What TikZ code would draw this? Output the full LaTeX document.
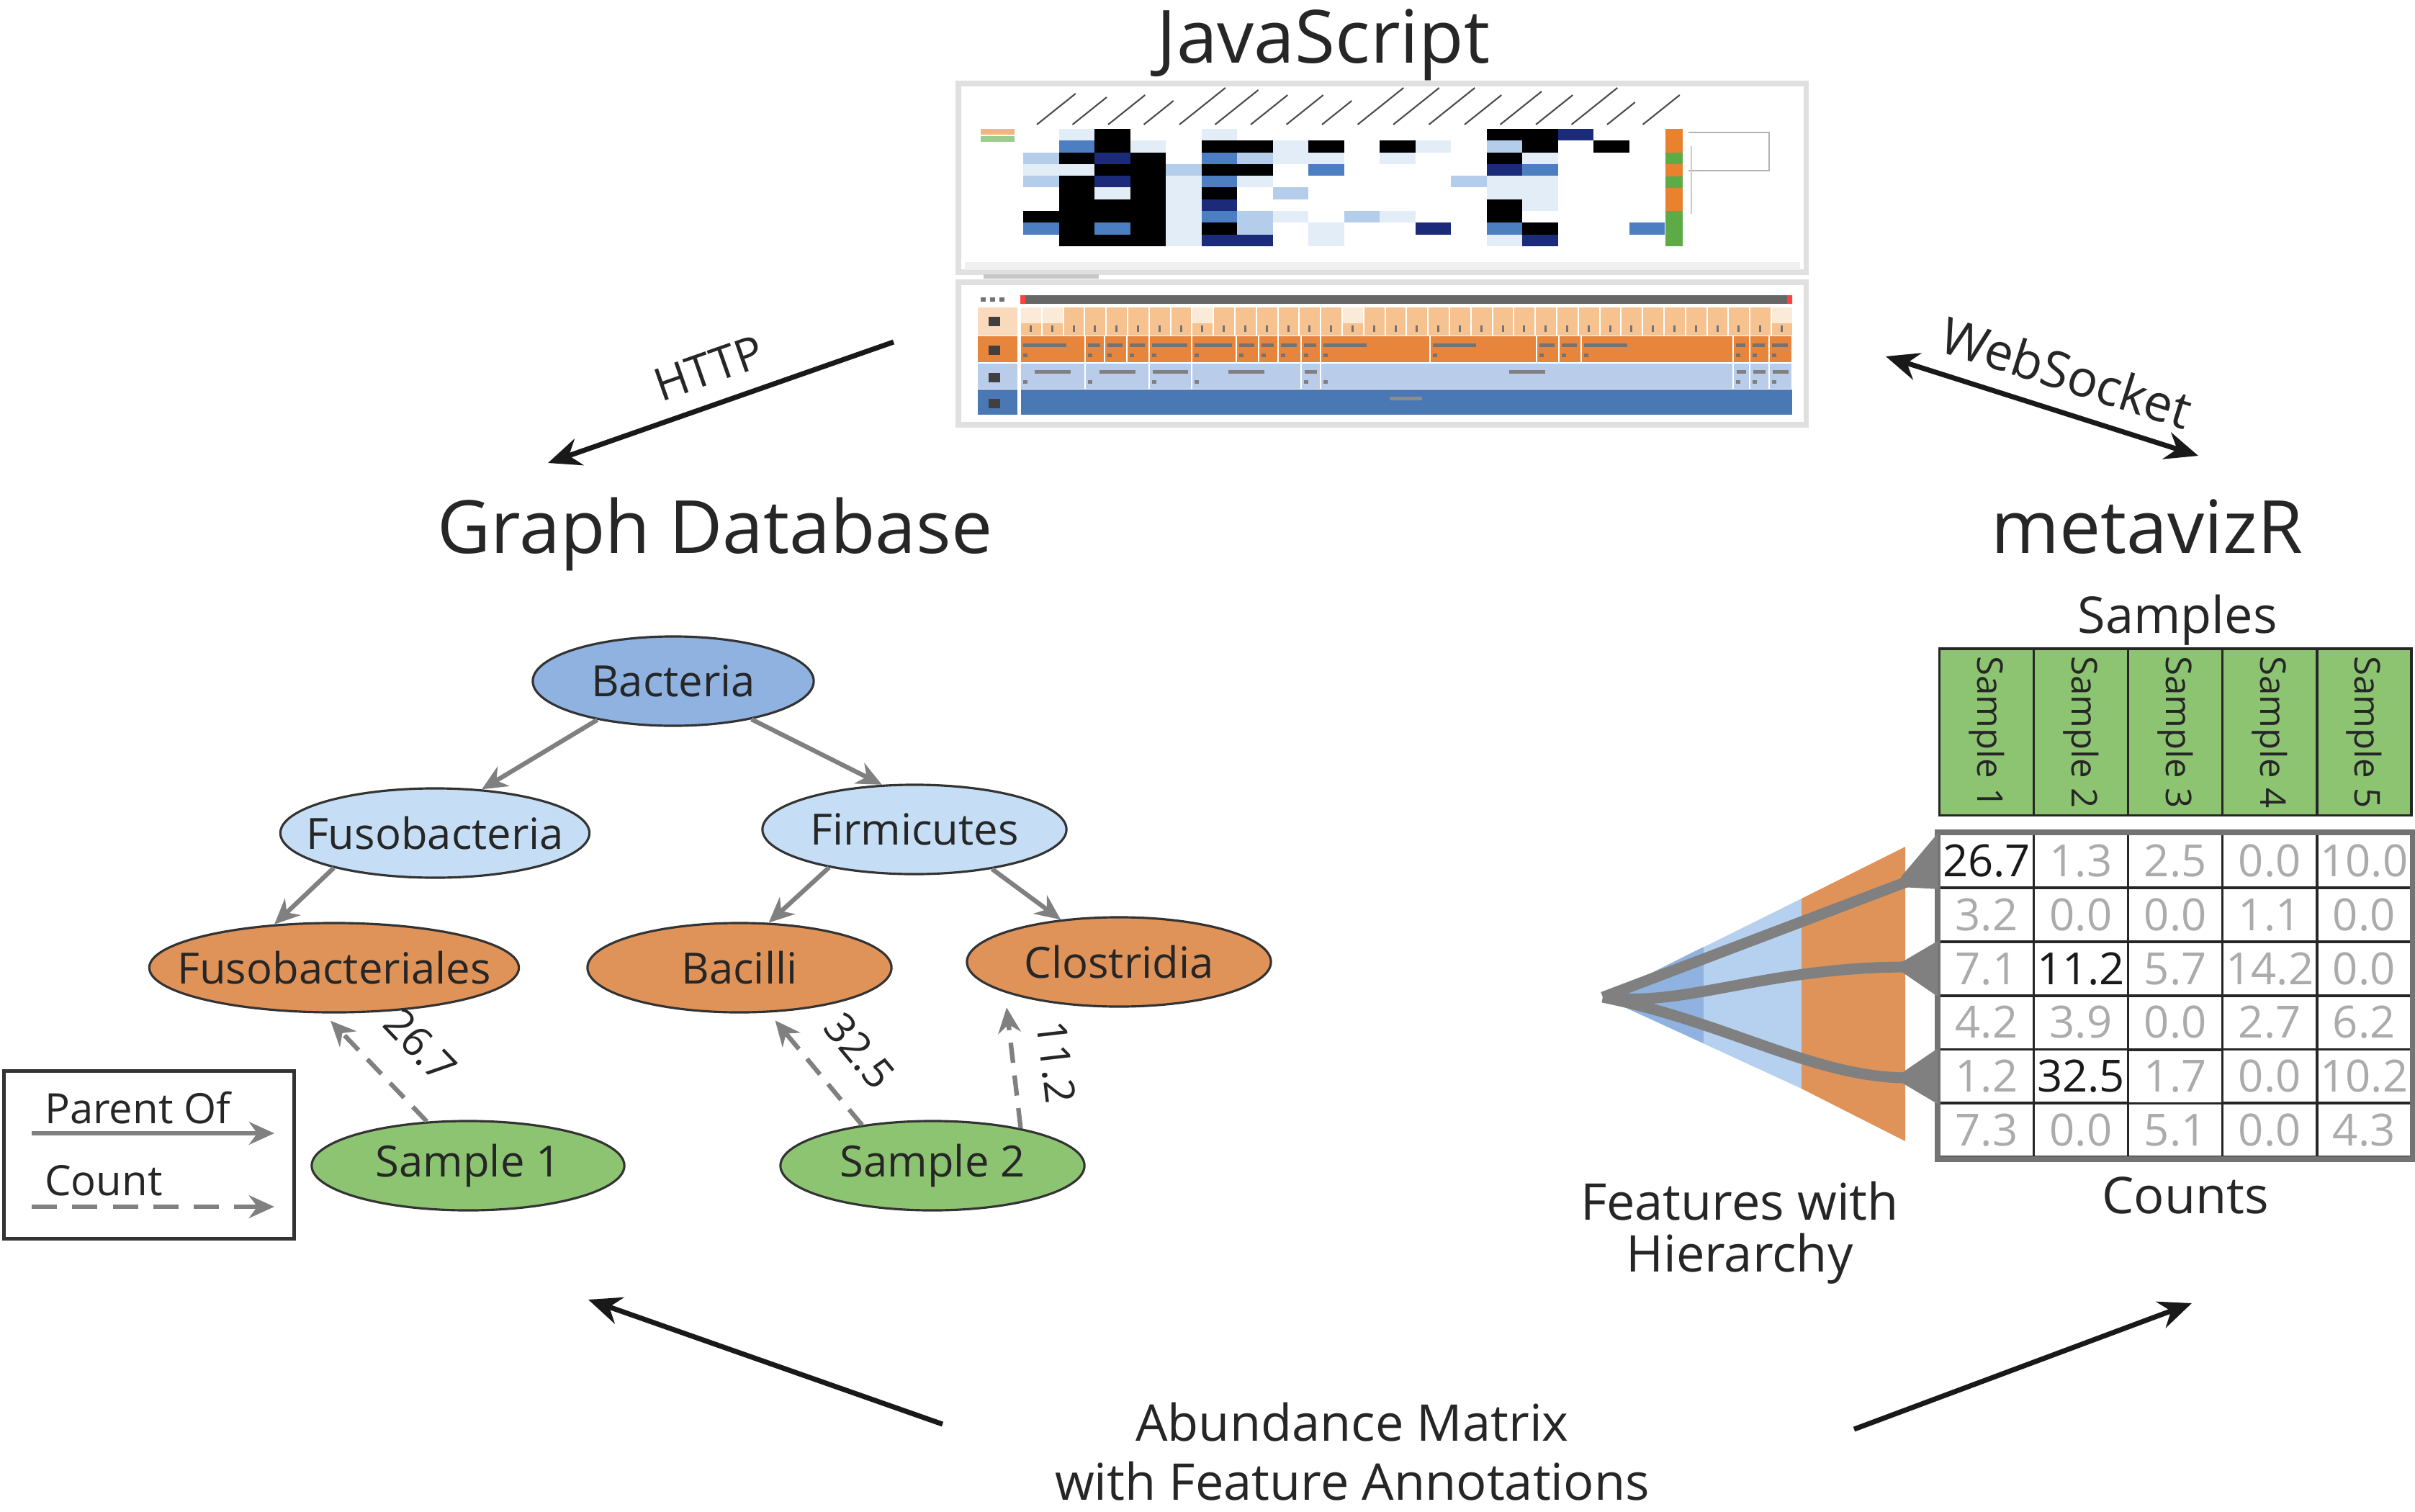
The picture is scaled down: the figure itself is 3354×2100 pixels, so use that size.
\documentclass[tikz,border=0pt]{standalone}
\usepackage{fontspec}
\setmainfont{Open Sans}
\usepackage{tikz}
\usetikzlibrary{matrix,shapes.geometric,arrows.meta,positioning}
\usepackage{xcolor}
\definecolor{kingdomblue}{HTML}{8FB2E0}
\definecolor{phylumblue}{HTML}{C5DEF5}
\definecolor{orderorange}{HTML}{DF9359}
\definecolor{samplegreen}{HTML}{8DC472}
\definecolor{linkgray}{HTML}{808080}
\definecolor{hm0}{HTML}{FFFFFF}
\definecolor{hm1}{HTML}{E3EDF8}
\definecolor{hm2}{HTML}{B3CDEA}
\definecolor{hm3}{HTML}{4C7FC2}
\definecolor{hm4}{HTML}{1C2A7A}
\definecolor{hm5}{HTML}{000000}
\definecolor{lvlA}{HTML}{F6C290}
\definecolor{lvlB}{HTML}{E8853D}
\definecolor{lvlC}{HTML}{B9CDEB}
\definecolor{lvlD}{HTML}{4A78B5}
\definecolor{barorange}{HTML}{E8822F}
\definecolor{bargreen}{HTML}{5DAA46}

\begin{document}
\begin{tikzpicture}[x=0.01cm,y=-0.01cm,>={Stealth[length=13pt,width=11pt]},
	taxon/.style={ellipse,draw=black!80,line width=0.9pt,minimum width=4.22cm,minimum height=1.24cm,inner xsep=-0.4cm,inner ysep=0pt,font=\fontsize{17}{20}\selectfont,text=black!85},
	parentedge/.style={draw=linkgray,line width=1.8pt,-{Stealth[length=10pt,width=9pt]}},
	countedge/.style={parentedge,dash pattern=on 8pt off 5pt},
	countlbl/.style={font=\fontsize{16.5}{19}\selectfont,text=black!85,inner sep=1pt},
	bigarrow/.style={draw=black!90,line width=2pt,->},
	titletext/.style={font=\fontsize{29}{34}\selectfont,text=black!85},
	captiontext/.style={font=\fontsize{20}{24}\selectfont,text=black!85,align=center,inner sep=1pt},
	countcell/.style={draw=black!85,line width=1pt,minimum width=1.31cm,minimum height=0.745cm,inner sep=0pt,text=black!33,font=\fontsize{17.5}{20}\selectfont},
	hicell/.style={text=black!90},
	samphead/.style={draw=black!85,line width=1pt,fill=samplegreen,rotate=-90,minimum width=2.31cm,minimum height=1.31cm,inner sep=0pt,font=\fontsize{14}{16}\selectfont,text=black!85},
	branch/.style={draw=linkgray,line width=4.3pt}
	]
	\useasboundingbox (0,0) rectangle (3354,2100);

	% titles
	\node[titletext,anchor=base] (js) at (1838,88) {JavaScript};
	\node[titletext,anchor=base] (gdb) at (993,768) {Graph Database};
	\node[titletext,anchor=base] (mvz) at (2982,768) {metavizR};

	% browser screenshot
	\draw[black!12,line width=2pt] (1331,116) rectangle (2508,378);
	\fill[black!6] (1340,364) rectangle (2500,375);
	\fill[barorange!60] (1362,179) rectangle (1409,187);
	\fill[bargreen!60] (1362,189) rectangle (1409,197);
	\foreach \k/\h in {0/43,1/38,2/41,3/33,4/51,5/48,6/41,7/41,8/33,9/51,10/51,11/51,12/41,13/46,14/41,15/51,16/31,17/41}
		\draw[black!70,line width=0.6pt] (1440+49.5*\k,173) -- ++(1.25*\h,-\h);
	\foreach \rw [count=\r] in {
		{0,1,5,0,0,1,0,0,0,0,0,0,0,5,5,4,0,0},
		{0,3,5,1,0,5,5,1,5,0,5,1,0,2,5,0,5,0},
		{2,5,4,5,0,3,2,1,1,0,1,0,0,5,1,0,0,0},
		{1,1,5,5,2,5,5,0,3,0,0,0,0,4,3,0,0,0},
		{2,5,4,5,1,3,1,0,0,0,0,0,2,1,1,0,0,0},
		{0,5,1,5,1,5,0,2,0,0,0,0,0,1,1,0,0,0},
		{0,5,5,5,1,4,0,0,0,0,0,0,0,5,1,0,0,0},
		{5,5,5,5,1,3,2,1,0,2,1,0,0,5,0,0,0,0},
		{3,5,3,5,1,5,2,0,1,0,0,4,0,3,5,0,0,3},
		{0,5,5,5,1,4,4,0,1,0,0,0,0,1,4,0,0,0}} {
		\foreach \v [count=\c] in \rw
			\fill[fill=hm\v] ({1421+49.5*(\c-1)},{179+16.3*(\r-1)}) rectangle ++(49.5,16.3);
	}
	\foreach \ya/\yb/\cl in {179/212/barorange,212/228/bargreen,228/245/barorange,245/261/bargreen,261/293/barorange,293/342/bargreen}
		\fill[fill=\cl] (2313,\ya) rectangle (2337,\yb);
	\draw[black!30,line width=0.6pt] (2345,184) -- (2457,184) -- (2457,237) -- (2345,237);
	\draw[black!20,line width=0.6pt] (2349,203) -- (2349,297);

	\fill[black!22] (1366,381) rectangle (1526,387);
	\draw[black!12,line width=2pt] (1331,392) rectangle (2508,590);
	\fill[black!60] (1417,410) rectangle (2489,422);
	\fill[red!75] (1417,410) rectangle (1424,422) (2482,410) rectangle (2489,422);
	\foreach \k in {0,1,2}
		\fill[black!55] (1362+13*\k,413) rectangle ++(7,6);
	\foreach \k in {0,...,35} {
		\fill[lvlA] (1418+29.8*\k,427) rectangle ++(27.8,39);
		\fill[black!55] (1430+29.8*\k,452) rectangle ++(3,9);
	}
	\foreach \k in {0,1,8,15,35}
		\fill[lvlA!35] (1418+29.8*\k,427) rectangle ++(27.8,22);
	\foreach \a/\b in {1417/1507,1507/1534,1534/1565,1565/1596,1596/1655,1655/1717,1717/1748,1748/1775,1775/1807,1807/1834,1834/1986,1986/2134,2134/2165,2165/2196,2196/2407,2407/2430,2430/2457,2457/2489} {
		\fill[lvlB] (\a+1,467) rectangle (\b-1,503);
		\pgfmathsetmacro\w{min(60,\b-\a-10)}
		\fill[black!55] (\a+4,477) rectangle ++(\w,5);
		\fill[black!55] (\a+4,491) rectangle ++(6,5);
	}
	\foreach \a/\b in {1417/1507,1507/1596,1596/1655,1655/1807,1807/1834,1834/2407,2407/2430,2430/2457,2457/2489} {
		\fill[lvlC] (\a+1,505) rectangle (\b-1,540);
		\pgfmathsetmacro\w{min(50,\b-\a-10)}
		\fill[black!50] ({(\a+\b)/2-\w/2},514) rectangle ++(\w,5);
		\fill[black!50] (\a+4,528) rectangle ++(6,5);
	}
	\fill[lvlD] (1418,541) rectangle (2489,576);
	\fill[black!45] (1930,551) rectangle ++(45,5);
	\foreach \ya/\yb/\cl in {427/466/lvlA!60,467/503/lvlB,505/540/lvlC,541/576/lvlD} {
		\fill[fill=\cl] (1358,\ya) rectangle (1413,\yb);
		\fill[black!75] (1373,\ya+13) rectangle ++(16,13);
	}

	% transport arrows
	\coordinate (httpA) at (1241,475);
	\coordinate (httpB) at (761,643);
	\coordinate (wsA) at (2619,495);
	\coordinate (wsB) at (3053,633);
	\draw[bigarrow] (httpA) -- node[captiontext,sloped,above=6pt,font=\fontsize{18}{20}\selectfont] (httplbl) {HTTP} (httpB);
	\draw[bigarrow,<->] (wsA) -- node[captiontext,sloped,above=6pt,pos=0.54] (wslbl) {WebSocket} (wsB);

	% graph database
	\node[taxon,fill=kingdomblue,minimum width=3.9cm] (bact) at (935,946) {Bacteria};
	\node[taxon,fill=phylumblue,minimum width=4.29cm] (fuso) at (604,1157) {Fusobacteria};
	\node[taxon,fill=phylumblue] (firm) at (1270,1152) {Firmicutes};
	\node[taxon,fill=orderorange,minimum width=5.13cm] (fusord) at (464,1344) {Fusobacteriales};
	\node[taxon,fill=orderorange] (bacil) at (1027,1344) {Bacilli};
	\node[taxon,fill=orderorange] (clost) at (1554,1336) {Clostridia};
	\node[taxon,fill=samplegreen,minimum width=4.34cm] (samp1) at (650,1619) {Sample 1};
	\node[taxon,fill=samplegreen] (samp2) at (1295,1619) {Sample 2};
	\draw[parentedge] (bact.207) -- (fuso.43);
	\draw[parentedge] (bact.334) -- (firm.126);
	\draw[parentedge] (fuso.199) -- (fusord.144);
	\draw[parentedge] (firm.204) -- (bacil.57);
	\draw[parentedge] (firm.333) -- (clost.144);
	\draw[countedge,shorten >=4pt] (samp1.133) -- node[countlbl,sloped,above=11pt,pos=0.4] (lbl1) {26.7} (fusord.257);
	\draw[countedge,shorten >=4pt] (samp2.150) -- node[countlbl,sloped,above=10pt,pos=0.4] (lbl2) {32.5} (bacil.303);
	\draw[countedge,shorten >=6pt] (samp2.23) -- node[countlbl,sloped,above=9pt,pos=0.45] (lbl3) {11.2} (clost.195);

	% legend
	\node[draw=black!80,line width=1.5pt,minimum width=4.03cm,minimum height=2.33cm] (legend) at (207,1604) {};
	\node[countlbl,anchor=base west] (legpar) at (58,1560) {Parent Of};
	\node[countlbl,anchor=base west] (legcnt) at (58,1660) {Count};
	\coordinate (lpA) at (44,1574);
	\coordinate (lpB) at (381,1574);
	\coordinate (lcA) at (44,1676);
	\coordinate (lcB) at (381,1676);
	\draw[parentedge] (lpA) -- (lpB);
	\draw[countedge,dash pattern=on 10pt off 6pt] (lcA) -- (lcB);

	% metavizR matrix
	\node[captiontext,anchor=base] (samples) at (3024,879) {Samples};
	\fill[phylumblue!70!kingdomblue] (2226,1385) -- (2502,1248) -- (2502,1512) -- cycle;
	\fill[kingdomblue] (2226,1385) -- (2366,1315) -- (2366,1449) -- cycle;
	\fill[orderorange] (2502,1248) -- (2646,1176) -- (2646,1585) -- (2502,1512) -- cycle;
	\matrix (cnt)[matrix of nodes,nodes in empty cells,column sep=-1pt,row sep=-1pt,inner sep=0pt,anchor=north west,nodes={countcell}] at (2691,1156)
	{
	|[hicell]|26.7 & 1.3 & 2.5 & 0.0 & 10.0 \\
	3.2 & 0.0 & 0.0 & 1.1 & 0.0 \\
	7.1 & |[hicell]|11.2 & 5.7 & 14.2 & 0.0 \\
	4.2 & 3.9 & 0.0 & 2.7 & 6.2 \\
	1.2 & |[hicell]|32.5 & 1.7 & 0.0 & 10.2 \\
	7.3 & 0.0 & 5.1 & 0.0 & 4.3 \\
	};
	\draw[black!55,line width=2.2pt] (cnt.north west) rectangle (cnt.south east);
	\foreach \i in {1,...,5}
		\path (cnt-1-\i.north) ++(0,-140) node[samphead] (head\i) {Sample \i};
	\draw[branch] (2226,1385) -- (2650,1224);
	\draw[branch] (2226,1385) .. controls (2340,1400) and (2450,1343) .. (2650,1343);
	\draw[branch] (2226,1385) .. controls (2400,1420) and (2520,1497) .. (2650,1497);
	\fill[linkgray] (2640,1218) -- (cnt-1-1.north west) -- (cnt-1-1.south west) -- (2640,1232) -- cycle;
	\fill[linkgray] (2640,1337) -- (cnt-3-1.north west) -- (cnt-3-1.south west) -- (2640,1349) -- cycle;
	\fill[linkgray] (2640,1491) -- (cnt-5-1.north west) -- (cnt-5-1.south west) -- (2640,1503) -- cycle;
	\node[captiontext,anchor=base] (counts) at (3035,1685) {Counts};
	\node[captiontext,font=\fontsize{20}{20.5}\selectfont] (feats) at (2416,1712) {Features with\\Hierarchy};

	% abundance matrix
	\node[captiontext,font=\fontsize{20}{23.5}\selectfont] (abund) at (1878,2016) {Abundance Matrix\\with Feature Annotations};
	\coordinate (abL) at (1309,1978);
	\coordinate (abLend) at (817,1805);
	\coordinate (abR) at (2575,1985);
	\coordinate (abRend) at (3044,1810);
	\draw[bigarrow] (abL) -- (abLend);
	\draw[bigarrow] (abR) -- (abRend);
\end{tikzpicture}
\end{document}
